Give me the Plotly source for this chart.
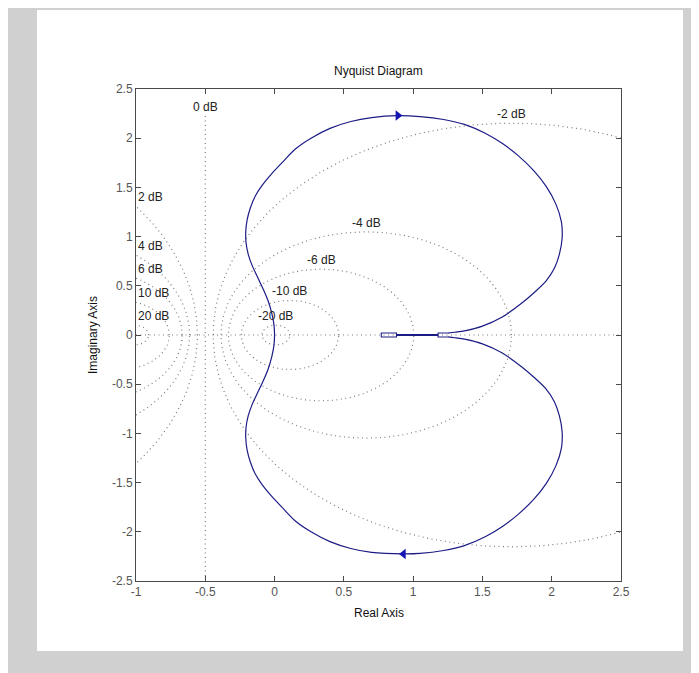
import numpy as np
import plotly.graph_objects as go

# ---------------- data ----------------
# Nyquist curve, positive-frequency branch (from origin round the top into the notch)
re_pos = [0.000, -0.004, -0.020, -0.045, -0.080, -0.120, -0.160, -0.190, -0.206, -0.208,
          -0.198, -0.175, -0.140, -0.090, -0.020, 0.060, 0.150, 0.263, 0.400, 0.550,
          0.700, 0.890, 1.050, 1.220, 1.370, 1.520, 1.650, 1.760, 1.870, 1.960,
          2.030, 2.070, 2.075, 2.055, 2.020, 1.960, 1.880, 1.780, 1.640, 1.500,
          1.380, 1.300, 1.250]
im_pos = [0.00, 0.10, 0.22, 0.34, 0.46, 0.58, 0.70, 0.82, 0.94, 1.05,
          1.17, 1.29, 1.41, 1.52, 1.64, 1.76, 1.89, 2.00, 2.10, 2.17,
          2.21, 2.23, 2.22, 2.19, 2.14, 2.05, 1.94, 1.82, 1.67, 1.51,
          1.33, 1.15, 0.98, 0.82, 0.68, 0.55, 0.44, 0.32, 0.18, 0.09,
          0.045, 0.028, 0.020]
# thin loop along the real axis inside the notch
loop_re = [1.25, 1.18, 1.18, 0.88, 0.88, 0.77, 0.77, 0.77, 0.88, 0.88, 1.18, 1.18, 1.25]
loop_im = [0.02, 0.02, 0.004, 0.004, 0.02, 0.02, 0.0, -0.02, -0.02, -0.004, -0.004, -0.02, -0.02]
# negative-frequency branch (from the notch round the bottom back to the origin)
re_neg = [1.250, 1.300, 1.380, 1.500, 1.640, 1.780, 1.880, 1.960, 2.020, 2.055,
          2.075, 2.070, 2.030, 1.960, 1.870, 1.760, 1.650, 1.520, 1.370, 1.220,
          1.050, 0.930, 0.700, 0.550, 0.400, 0.263, 0.150, 0.060, -0.020, -0.090,
          -0.140, -0.175, -0.198, -0.208, -0.206, -0.190, -0.160, -0.120, -0.080, -0.045,
          -0.020, -0.004, 0.000]
im_neg = [-0.020, -0.028, -0.045, -0.09, -0.18, -0.32, -0.44, -0.55, -0.68, -0.82,
          -0.98, -1.15, -1.33, -1.51, -1.67, -1.82, -1.94, -2.05, -2.14, -2.19,
          -2.22, -2.225, -2.21, -2.17, -2.10, -2.00, -1.89, -1.76, -1.64, -1.52,
          -1.41, -1.29, -1.17, -1.05, -0.94, -0.82, -0.70, -0.58, -0.46, -0.34,
          -0.22, -0.10, 0.00]
# direction arrows
arrow_re = [0.89, 0.93]
arrow_im = [2.23, -2.225]
arrow_sym = ["triangle-right", "triangle-left"]

# constant closed-loop magnitude (M) circles, in dB
m_db = [-20, -10, -6, -4, -2, 2, 4, 6, 10, 20]
m_labels = ["-20 dB", "-10 dB", "-6 dB", "-4 dB", "-2 dB", "2 dB", "4 dB", "6 dB", "10 dB", "20 dB"]

x_ticks = [-1, -0.5, 0, 0.5, 1, 1.5, 2, 2.5]
x_ticktext = ["-1", "-0.5", "0", "0.5", "1", "1.5", "2", "2.5"]
y_ticks = [-2.5, -2, -1.5, -1, -0.5, 0, 0.5, 1, 1.5, 2, 2.5]
y_ticktext = ["-2.5", "-2", "-1.5", "-1", "-0.5", "0", "0.5", "1", "1.5", "2", "2.5"]

X_RANGE = [-1, 2.5]
Y_RANGE = [-2.5, 2.5]

# ---------------- layout geometry (figure sits at an 8px page offset) ----------------
W, H = 691, 665
L, R, T, B = 128, 78, 81, 92
PW, PH = W - L - R, H - T - B

FONT = "Liberation Sans, Arial, Helvetica, sans-serif"
TXT = "#222222"
GRID = "#7c7c7c"
GRID_DASH = "1px,3.5px"
CURVE = "#1c1c86"

fig = go.Figure()

# grid: M circles
theta = np.linspace(0, 2 * np.pi, 720)
annotations = []
for db, lab in zip(m_db, m_labels):
    M = 10 ** (db / 20.0)
    c = -M ** 2 / (M ** 2 - 1)
    r = abs(M / (M ** 2 - 1))
    fig.add_trace(go.Scatter(x=c + r * np.cos(theta), y=r * np.sin(theta), mode="lines",
                             line=dict(color=GRID, width=1.2, dash=GRID_DASH),
                             hoverinfo="skip", showlegend=False))
    if db < 0:
        annotations.append(dict(x=c, y=r, text=lab, xanchor="center", yanchor="bottom",
                                showarrow=False, font=dict(family=FONT, size=12, color=TXT)))
    else:
        yy = np.sqrt(max(r ** 2 - (X_RANGE[0] - c) ** 2, 0))
        annotations.append(dict(x=X_RANGE[0], y=yy, text=lab, xanchor="left", yanchor="bottom",
                                showarrow=False, font=dict(family=FONT, size=12, color=TXT)))

# 0 dB line and real axis
fig.add_trace(go.Scatter(x=[-0.5, -0.5], y=[-2.45, 2.25], mode="lines",
                         line=dict(color=GRID, width=1.2, dash=GRID_DASH),
                         hoverinfo="skip", showlegend=False))
annotations.append(dict(x=-0.5, y=2.23, text="0 dB", xanchor="center", yanchor="bottom",
                        showarrow=False, font=dict(family=FONT, size=12, color=TXT)))
fig.add_trace(go.Scatter(x=X_RANGE, y=[0, 0], mode="lines",
                         line=dict(color=GRID, width=1.2, dash=GRID_DASH),
                         hoverinfo="skip", showlegend=False))

# Nyquist curve
fig.add_trace(go.Scatter(x=re_pos, y=im_pos, mode="lines",
                         line=dict(color=CURVE, width=1.2, shape="spline", smoothing=0.8),
                         showlegend=False))
fig.add_trace(go.Scatter(x=loop_re, y=loop_im, mode="lines",
                         line=dict(color=CURVE, width=1.1), showlegend=False))
fig.add_trace(go.Scatter(x=re_neg, y=im_neg, mode="lines",
                         line=dict(color=CURVE, width=1.2, shape="spline", smoothing=0.8),
                         showlegend=False))
fig.add_trace(go.Scatter(x=arrow_re, y=arrow_im, mode="markers",
                         marker=dict(symbol=arrow_sym, size=9, color="#1414b4",
                                     line=dict(width=0)), showlegend=False))

# titles
annotations.append(dict(x=0.5, y=1, xref="paper", yref="paper", text="Nyquist Diagram",
                        yshift=18, xanchor="center", yanchor="middle", showarrow=False,
                        font=dict(family=FONT, size=12, color="#111111")))
annotations.append(dict(x=0.5, y=0, xref="paper", yref="paper", text="Real Axis",
                        yshift=-32, xanchor="center", yanchor="middle", showarrow=False,
                        font=dict(family=FONT, size=12, color="#111111")))
annotations.append(dict(x=0, y=0.5, xref="paper", yref="paper", text="Imaginary Axis",
                        xshift=-43, textangle=-90, xanchor="center", yanchor="middle",
                        showarrow=False, font=dict(family=FONT, size=12, color="#111111")))

# figure background: gray window with white figure panel (figure pixel coords)
def px_x(p):
    return (p - L) / PW

def px_y(p):
    return (H - B - p) / PH

shapes = [
    dict(type="rect", xref="paper", yref="paper", x0=px_x(29), x1=px_x(675),
         y0=px_y(643), y1=px_y(2), fillcolor="white", line=dict(width=0), layer="below"),
]

axis_common = dict(showgrid=False, zeroline=False, showline=True, linecolor="#4a4a4a",
                   linewidth=1, mirror="ticks", ticks="inside", ticklen=5,
                   tickcolor="#4a4a4a", tickfont=dict(family=FONT, size=12, color="#555555"))

fig.update_layout(
    width=W, height=H,
    margin=dict(l=L, r=R, t=T, b=B, pad=0),
    paper_bgcolor="#d0d0d0", plot_bgcolor="white",
    xaxis=dict(range=X_RANGE, tickvals=x_ticks, ticktext=x_ticktext, **axis_common),
    yaxis=dict(range=Y_RANGE, tickvals=y_ticks, ticktext=y_ticktext, **axis_common),
    annotations=annotations, shapes=shapes, showlegend=False,
)

fig.write_html("out.html")
